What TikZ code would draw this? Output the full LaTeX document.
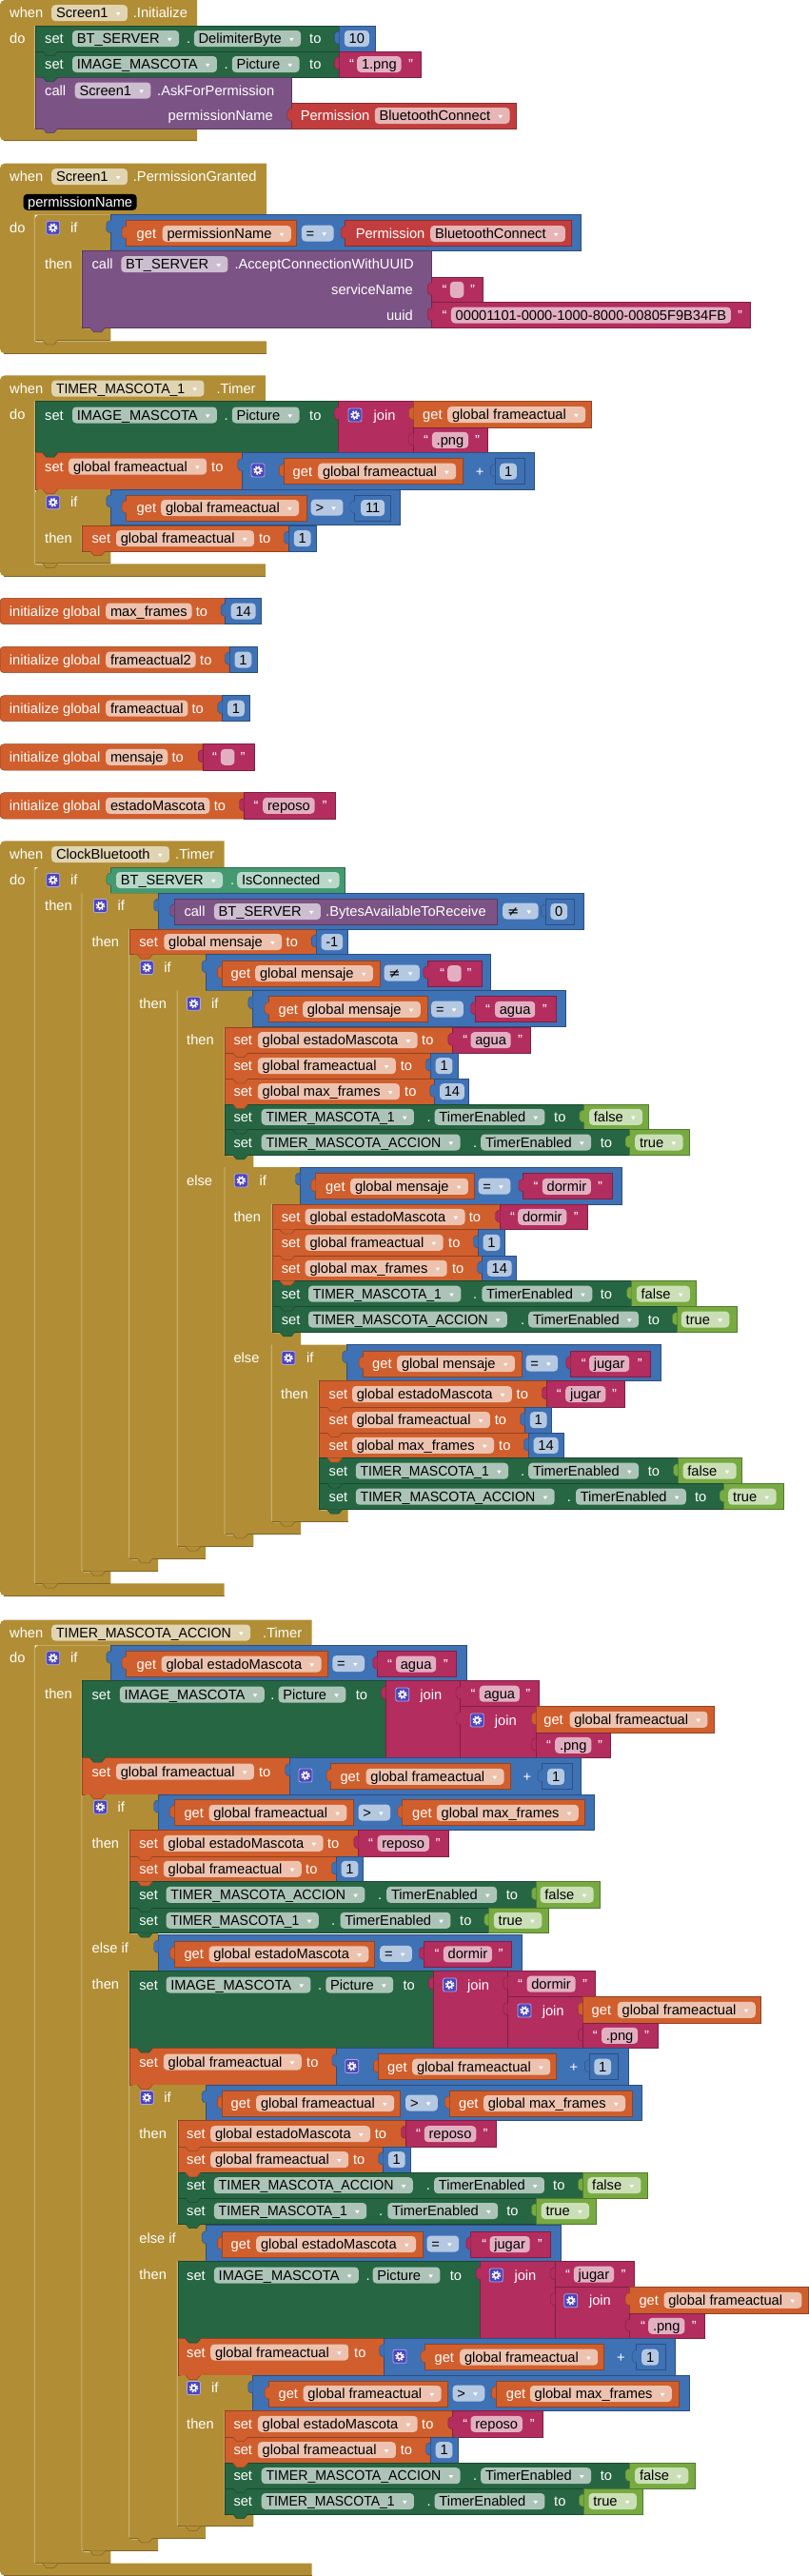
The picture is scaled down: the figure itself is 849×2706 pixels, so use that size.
\documentclass[tikz,border=0pt]{standalone}
\usepackage{fontspec}
\setmainfont{Liberation Sans}
\newfontfamily\dvs{DejaVu Sans}
\pgfdeclarelayer{fg}
\pgfsetlayers{main,fg}
\definecolor{cgold}{RGB}{177,142,53}
\definecolor{csetg}{RGB}{38,102,67}
\definecolor{cgetg}{RGB}{67,153,112}
\definecolor{cpurp}{RGB}{124,83,133}
\definecolor{cred}{RGB}{194,62,62}
\definecolor{cmag}{RGB}{179,45,94}
\definecolor{cblue}{RGB}{63,113,181}
\definecolor{corange}{RGB}{208,95,45}
\definecolor{clogic}{RGB}{119,171,65}
\definecolor{cgear}{RGB}{76,68,190}
\newcounter{nd}
\newcommand\TMone{\scalebox{0.955}[1]{TIMER\_MASCOTA\_1}}
\newcommand\TMacc{\scalebox{0.965}[1]{TIMER\_MASCOTA\_ACCION}}
\tikzset{
 lbl/.style={text=white, inner sep=0pt, anchor=west, text height=11pt, text depth=1pt},
 rlbl/.style={lbl, anchor=east},
 fldst/.style={fill=white, fill opacity=0.62, text opacity=1, text=black, rounded corners=4pt, inner xsep=4.8pt, inner ysep=0pt, minimum height=17pt, text height=11pt, text depth=1pt, anchor=west},
 parst/.style={fill=black, text=white, rounded corners=4pt, inner xsep=4.5pt, inner ysep=0pt, minimum height=17pt, text height=11pt, text depth=1pt, anchor=west},
 hil/.style={white, draw opacity=.5, line width=.8pt, rounded corners=3pt},
 shad/.style={cgold!72!black, line width=.8pt}
}
\newcommand\lb[3]{\stepcounter{nd}\node[lbl] (n\arabic{nd}) at (#1,#2) {#3};}
\newcommand\rl[3]{\stepcounter{nd}\node[rlbl] (n\arabic{nd}) at (#1,#2) {#3};}
\newcommand\fd[3]{\stepcounter{nd}\node[fldst] (n\arabic{nd}) at (#1,#2) {#3};}
\newcommand\ef[2]{\stepcounter{nd}\node[fldst, minimum width=14.5pt] (n\arabic{nd}) at (#1,#2) {};}
\newcommand\dr[3]{\stepcounter{nd}\node[fldst] (n\arabic{nd}) at (#1,#2) {#3\kern15.5pt\mbox{}};
 \fill[white] ([xshift=-12.3pt,yshift=0.6pt]n\arabic{nd}.east) -- ++(4.6pt,0pt) -- ++(-2.3pt,-3.4pt) -- cycle;}
\newcommand\nt[3]{\begin{pgfonlayer}{fg}\fill[#3] (#1+8,#2-.4) -- (#1+12,#2+4.5) -- (#1+20,#2+4.5) -- (#1+24,#2-.4) -- cycle;
 \draw[#3!70!black, line width=.5pt] (#1+8,#2) -- (#1+12,#2+4.5) -- (#1+20,#2+4.5) -- (#1+24,#2);\end{pgfonlayer}}
\newcommand\vt[3]{\begin{pgfonlayer}{fg}\filldraw[fill=#3, draw=#3!70!black, line width=.4pt, rounded corners=2pt] (#1+.4,#2+6) -- (#1-4.5,#2+7) -- (#1-4.5,#2+18) -- (#1+.4,#2+19);\end{pgfonlayer}}
\newcommand\stb[5]{\filldraw[fill=#5, draw=#5!70!black, line width=.5pt] (#1,#2) rectangle (#3,#4);\nt{#1}{#4}{#5}}
\newcommand\vab[5]{\filldraw[fill=#5, draw=#5!70!black, line width=.5pt] (#1,#2) rectangle (#3,#4);\vt{#1}{#2}{#5}}
\newcommand\gb[3]{\filldraw[fill=corange, draw=corange!70!black, line width=.5pt] (0,#1+4) arc[start angle=180,end angle=270,radius=4] -- (#2,#1) -- (#2,#3) -- (4,#3) arc[start angle=90,end angle=180,radius=4] -- cycle;}
\newcommand\hh[3]{\draw[hil] (#1-.6,#2) -- (#1-.6,#3+.6) -- (#1+13,#3+.6);}
\newcommand\ev[4]{\fill[cgold] (0,#2+5) arc[start angle=180,end angle=270,radius=5] -- (#1,#2) -- (#1,#3) -- (36.8,#3) -- (36.8,#4) -- (#1,#4) -- (#1,#4+13) -- (5,#4+13) arc[start angle=90,end angle=180,radius=5] -- cycle;
 \hh{36.8}{#3}{#4}\draw[shad] (4,#4+12.6) -- (#1,#4+12.6);}
\newcommand\ib[3]{\fill[cgold] (#1,#2+4) arc[start angle=180,end angle=270,radius=4] -- (#1+79.6,#2) -- (#1+79.6,#3+13) -- (#1,#3+13) -- cycle;
 \draw[shad] (#1,#3+12.6) -- (#1+79.6,#3+12.6);\nt{#1}{#3+13}{cgold}}
\newcommand\gz[2]{\filldraw[fill=cgear, draw=cgear!45!white, line width=.8pt, rounded corners=2pt] (#1,#2-7) rectangle (#1+14,#2+7);
 \draw[white, line width=1.5pt] (#1+7,#2) circle (2.5);
 \draw[white, line width=1.5pt, dash pattern=on 1.65pt off 1.65pt] (#1+7,#2) circle (4.2);}
\begin{document}
\begin{tikzpicture}[x=1pt,y=-1pt,font=\fontsize{14.67pt}{17pt}\selectfont]
\fill[white] (0,0) rectangle (849,2706);
\useasboundingbox (0,0) rectangle (849,2706);
% ===== Event 1 =====
\ev{207}{0}{27}{135}
\lb{10}{13.7}{when}\dr{54}{13.7}{Screen1}\lb{139.7}{13.7}{.Initialize}
\lb{10}{40.5}{do}
\stb{36.8}{27}{356}{54}{csetg}
\lb{47}{40.5}{set}\dr{75.8}{40.5}{BT\_SERVER}\lb{196}{40.5}{.}\dr{203.6}{40.5}{DelimiterByte}\lb{325}{40.5}{to}
\vab{356}{27}{394}{54}{cblue}\fd{361.7}{40.5}{10}
\stb{36.8}{54}{356}{81}{csetg}
\lb{47}{67.5}{set}\dr{75.8}{67.5}{IMAGE\_MASCOTA}\lb{235.5}{67.5}{.}\dr{243.6}{67.5}{Picture}\lb{325}{67.5}{to}
\vab{356}{54}{442}{81}{cmag}\lb{367}{67.5}{“}\fd{375}{67.5}{1.png}\lb{429}{67.5}{”}
\stb{36.8}{81}{306.4}{135}{cpurp}
\lb{47}{95}{call}\dr{78.5}{95}{Screen1}\lb{165}{95}{.AskForPermission}
\rl{287}{121.5}{permissionName}
\vab{306.4}{108}{542.5}{135}{cred}\lb{315.6}{121.5}{Permission}\dr{393.6}{121.5}{BluetoothConnect}
% ===== Event 2 =====
\ev{280}{171.7}{225.7}{358.3}
\lb{10}{185.7}{when}\dr{54}{185.7}{Screen1}\lb{139.7}{185.7}{.PermissionGranted}
\stepcounter{nd}\node[parst] (n\arabic{nd}) at (24.4,212.3) {permissionName};
\lb{10}{239.3}{do}
\ib{36.8}{225.7}{344.3}\hh{86.6}{263.7}{344.3}
\gz{48.7}{239.3}\lb{74}{239.3}{if}
\vab{116.4}{225.7}{610}{263.7}{cblue}
\vab{132.6}{231.7}{311.3}{258.7}{corange}\lb{143.5}{245.5}{get}\dr{170.5}{245.5}{permissionName}
\dr{316.7}{245}{=}
\vab{362.7}{231.7}{600}{258.7}{cred}\lb{373.6}{245.5}{Permission}\dr{452}{245.5}{BluetoothConnect}
\lb{47}{277}{then}
\stb{86.6}{263.7}{453}{344.3}{cpurp}
\lb{96.4}{277.7}{call}\dr{127.2}{277.7}{BT\_SERVER}\lb{246.3}{277.7}{.AcceptConnectionWithUUID}
\rl{434}{304.3}{serviceName}
\vab{453.7}{291}{507.3}{317.7}{cmag}\lb{464.5}{304.3}{“}\ef{472.6}{304.3}\lb{493.8}{304.3}{”}
\rl{434}{331}{uuid}
\vab{453.7}{317.7}{787.8}{344.3}{cmag}\lb{464.5}{331}{“}\fd{473.7}{331}{00001101-0000-1000-8000-00805F9B34FB}\lb{775}{331}{”}
% ===== Event 3 =====
\ev{278.8}{394.3}{421.7}{592.3}
\lb{10}{408}{when}\dr{54}{408}{\TMone}\lb{227.4}{408}{.Timer}
\lb{10}{435.5}{do}
\stb{36.8}{421.7}{355.7}{475.7}{csetg}
\lb{47}{436}{set}\dr{75.8}{436}{IMAGE\_MASCOTA}\lb{235.5}{436}{.}\dr{243.6}{436}{Picture}\lb{325}{436}{to}
\vab{355.7}{421.7}{434.2}{475.7}{cmag}\gz{366}{436}\lb{392.5}{436}{join}
\vab{434.2}{421.7}{621.5}{449}{corange}\lb{444}{435.5}{get}\dr{470}{435.5}{global frameactual}
\vab{434.2}{449}{512.7}{475.7}{cmag}\lb{445}{462.3}{“}\fd{453.7}{462.3}{.png}\lb{499}{462.3}{”}
\stb{36.8}{475.7}{254.4}{514}{corange}
\lb{47}{490}{set}\dr{72}{490}{global frameactual}\lb{222}{490}{to}
\vab{254.4}{475.7}{561}{514}{cblue}\gz{264}{494}
\vab{297.8}{481.7}{486.2}{508.7}{corange}\lb{307.5}{495.2}{get}\dr{334}{495.2}{global frameactual}
\lb{499.7}{495}{+}
\vab{519.8}{481.7}{551}{508.7}{cblue}\fd{525}{495.2}{1}
\ib{36.8}{514}{579}\hh{86.6}{552.3}{579}
\gz{48.7}{527.7}\lb{74}{527.7}{if}
\vab{116.4}{514}{420}{551.7}{cblue}
\vab{132.6}{520}{322}{547}{corange}\lb{143.5}{533.5}{get}\dr{169}{533.5}{global frameactual}
\dr{326.5}{533}{>}
\vab{372.5}{520}{410.4}{547}{cblue}\fd{379}{533.5}{11}
\lb{47}{565}{then}
\stb{86.6}{552.3}{303}{579}{corange}\lb{96.4}{565.7}{set}\dr{121.8}{565.7}{global frameactual}\lb{271.8}{565.7}{to}
\vab{303}{552.3}{332.4}{579}{cblue}\fd{308.6}{565.7}{1}
% ===== Globals =====
\gb{628.3}{236.6}{655.7}\lb{9.7}{642}{initialize global}\fd{111}{642}{max\_frames}\lb{205.7}{642}{to}
\vab{236.6}{628.3}{274.5}{655.7}{cblue}\fd{242.5}{642}{14}
\gb{679.3}{241}{706.7}\lb{9.7}{693}{initialize global}\fd{111}{693}{frameactual2}\lb{210}{693}{to}
\vab{241}{679.3}{270.7}{706.7}{cblue}\fd{246.3}{693}{1}
\gb{730.7}{233.3}{757.7}\lb{9.7}{744.2}{initialize global}\fd{111}{744.2}{frameactual}\lb{201.4}{744.2}{to}
\vab{233.3}{730.7}{262.6}{757.7}{cblue}\fd{238.8}{744.2}{1}
\gb{781.7}{212.8}{809}\lb{9.7}{795.3}{initialize global}\fd{111}{795.3}{mensaje}\lb{180.3}{795.3}{to}
\vab{212.8}{781.7}{267}{809}{cmag}\lb{223}{795.3}{“}\ef{231.7}{795.3}\lb{252.3}{795.3}{”}
\gb{832.7}{256}{860}\lb{9.7}{846.3}{initialize global}\fd{111}{846.3}{estadoMascota}\lb{224.7}{846.3}{to}
\vab{256}{832.7}{352}{860}{cmag}\lb{266.4}{846.3}{“}\fd{276}{846.3}{reposo}\lb{338.4}{846.3}{”}
% ===== ClockBluetooth =====
\ev{235.5}{883.3}{911}{1663.3}
\lb{10}{897.5}{when}\dr{54}{897.5}{ClockBluetooth}\lb{184}{897.5}{.Timer}
\lb{10}{924.5}{do}
\ib{36.8}{911}{1650.7}\hh{86.6}{938.3}{1650.7}
\gz{48.7}{924.5}\lb{74}{924.5}{if}
\vab{116.4}{911}{362.7}{938}{cgetg}\dr{121.8}{924.5}{BT\_SERVER}\lb{242}{924.5}{.}\dr{249}{924.5}{IsConnected}
\lb{47}{951.5}{then}
\ib{86.6}{938.3}{1637.7}\hh{136.4}{976}{1637.7}
\gz{98.4}{951.5}\lb{123.4}{951.5}{if}
\vab{166.2}{938.3}{613.4}{976}{cblue}
\vab{183}{944}{522.5}{971}{cpurp}\lb{193.3}{957.5}{call}\dr{224.7}{957.5}{BT\_SERVER}\lb{342}{957.5}{.BytesAvailableToReceive}
\dr{528}{957}{{\dvs ≠}}
\vab{572.8}{944}{603.7}{971}{cblue}\fd{578.2}{957.5}{0}
\lb{96.4}{989.5}{then}
\stb{136.4}{976}{331.9}{1002.7}{corange}\lb{146.2}{989.5}{set}\dr{172.2}{989.5}{global mensaje}\lb{300.5}{989.5}{to}
\vab{331.9}{976}{365.4}{1002.7}{cblue}\fd{337.3}{989.5}{-1}
\ib{136.4}{1002.7}{1624.3}\hh{186.8}{1040.7}{1624.3}
\gz{147.3}{1016.5}\lb{172.2}{1016.5}{if}
\vab{216.6}{1002.7}{515.4}{1040.7}{cblue}
\vab{232.8}{1009}{399.5}{1036}{corange}\lb{242.5}{1022.5}{get}\dr{268}{1022.5}{global mensaje}
\dr{403.3}{1022}{{\dvs ≠}}
\vab{449.4}{1009}{506.2}{1036}{cmag}\lb{461.8}{1022.5}{“}\ef{470}{1022.5}\lb{490.5}{1022.5}{”}
\lb{146.2}{1054}{then}
\ib{186.8}{1040.7}{1611.7}\hh{236.6}{1079.3}{1213.3}\hh{236.6}{1226}{1611.7}
\gz{196.5}{1054.3}\lb{222}{1054.3}{if}
\vab{265.3}{1040.7}{594.5}{1078.3}{cblue}
\vab{282.6}{1046.7}{449.4}{1073.7}{corange}\lb{292.4}{1060.3}{get}\dr{317.8}{1060.3}{global mensaje}
\dr{453}{1060}{=}
\vab{499.2}{1046.7}{584.7}{1073.7}{cmag}\lb{510}{1060.3}{“}\fd{519.8}{1060.3}{agua}\lb{569.6}{1060.3}{”}
\lb{196}{1092}{then}
\stb{236.6}{1079.3}{475.4}{1106}{corange}\lb{245.3}{1092.7}{set}\dr{270.7}{1092.7}{global estadoMascota}\lb{443}{1092.7}{to}
\vab{475.4}{1079.3}{557.7}{1106}{cmag}\lb{486.2}{1092.7}{“}\fd{494.3}{1092.7}{agua}\lb{544}{1092.7}{”}
\stb{236.6}{1106}{452}{1133.3}{corange}\lb{245.3}{1119.7}{set}\dr{270.7}{1119.7}{global frameactual}\lb{420.7}{1119.7}{to}
\vab{452}{1106}{480.8}{1133.3}{cblue}\fd{457.5}{1119.7}{1}
\stb{236.6}{1133.3}{456.4}{1160}{corange}\lb{245.3}{1146.7}{set}\dr{270.7}{1146.7}{global max\_frames}\lb{425}{1146.7}{to}
\vab{456.4}{1133.3}{492.7}{1160}{cblue}\fd{461.8}{1146.7}{14}
\stb{236.6}{1160}{613.4}{1186.7}{csetg}\lb{245.3}{1173.3}{set}\dr{274.5}{1173.3}{\TMone}\lb{448.3}{1173.3}{.}\dr{456.4}{1173.3}{TimerEnabled}\lb{582}{1173.3}{to}
\vab{613.4}{1160}{681}{1186.7}{clogic}\dr{618.8}{1173.3}{false}
\stb{236.6}{1186.7}{661.6}{1213.3}{csetg}\lb{245.3}{1200}{set}\dr{274.5}{1200}{\TMacc}\lb{497}{1200}{.}\dr{505}{1200}{TimerEnabled}\lb{630.7}{1200}{to}
\vab{661.6}{1186.7}{724.4}{1213.3}{clogic}\dr{667}{1200}{true}
\lb{196}{1240}{else}
\ib{236.6}{1226}{1598.3}\hh{285.9}{1265}{1399.3}\hh{285.9}{1412.7}{1598.3}
\gz{246.3}{1240}\lb{272.3}{1240}{if}
\vab{315}{1226}{653.5}{1265}{cblue}
\vab{331.3}{1232.7}{498}{1259.7}{corange}\lb{342}{1246.3}{get}\dr{368}{1246.3}{global mensaje}
\dr{502.4}{1246}{=}
\vab{549.5}{1232.7}{643.2}{1259.7}{cmag}\lb{560.4}{1246.3}{“}\fd{569.6}{1246.3}{dormir}\lb{628}{1246.3}{”}
\lb{245.3}{1278.3}{then}
\stb{285.9}{1265}{525.2}{1291.7}{corange}\lb{295.7}{1278.3}{set}\dr{320.5}{1278.3}{global estadoMascota}\lb{492.7}{1278.3}{to}
\vab{525.2}{1265}{617.2}{1291.7}{cmag}\lb{536}{1278.3}{“}\fd{544}{1278.3}{dormir}\lb{602.6}{1278.3}{”}
\stb{285.9}{1291.7}{502}{1319}{corange}\lb{295.7}{1305.3}{set}\dr{320.5}{1305.3}{global frameactual}\lb{471}{1305.3}{to}
\vab{502}{1291.7}{530.6}{1319}{cblue}\fd{507.3}{1305.3}{1}
\stb{285.9}{1319}{506.2}{1345.7}{corange}\lb{295.7}{1332.3}{set}\dr{320.5}{1332.3}{global max\_frames}\lb{474.8}{1332.3}{to}
\vab{506.2}{1319}{542.5}{1345.7}{cblue}\fd{511.6}{1332.3}{14}
\stb{285.9}{1345.7}{663.2}{1372.7}{csetg}\lb{295.7}{1359.2}{set}\dr{323.8}{1359.2}{\TMone}\lb{497}{1359.2}{.}\dr{506.2}{1359.2}{TimerEnabled}\lb{630.7}{1359.2}{to}
\vab{663.2}{1345.7}{731}{1372.7}{clogic}\dr{668.6}{1359.2}{false}
\stb{285.9}{1372.7}{710.9}{1399.3}{csetg}\lb{295.7}{1386}{set}\dr{323.8}{1386}{\TMacc}\lb{546.8}{1386}{.}\dr{555}{1386}{TimerEnabled}\lb{680.6}{1386}{to}
\vab{710.9}{1372.7}{774.2}{1399.3}{clogic}\dr{715.7}{1386}{true}
\lb{245.3}{1426}{else}
\ib{285.9}{1412.7}{1585.7}\hh{335.7}{1450.7}{1585.7}
\gz{296}{1426.5}\lb{322}{1426.5}{if}
\vab{364.4}{1412.7}{694}{1450.7}{cblue}
\vab{381.7}{1419}{548}{1446}{corange}\lb{391}{1432.5}{get}\dr{417}{1432.5}{global mensaje}
\dr{552.3}{1432}{=}
\vab{599.3}{1419}{683.3}{1446}{cmag}\lb{610.7}{1432.5}{“}\fd{618.8}{1432.5}{jugar}\lb{669.7}{1432.5}{”}
\lb{295}{1464}{then}
\stb{335.7}{1450.7}{574}{1478.3}{corange}\lb{345.5}{1464.5}{set}\dr{369.8}{1464.5}{global estadoMascota}\lb{542.5}{1464.5}{to}
\vab{574}{1450.7}{656.7}{1478.3}{cmag}\lb{584.7}{1464.5}{“}\fd{594}{1464.5}{jugar}\lb{643}{1464.5}{”}
\stb{335.7}{1478.3}{551.2}{1505}{corange}\lb{345.5}{1491.7}{set}\dr{369.8}{1491.7}{global frameactual}\lb{519.7}{1491.7}{to}
\vab{551.2}{1478.3}{579.3}{1505}{cblue}\fd{556.6}{1491.7}{1}
\stb{335.7}{1505}{555}{1531.7}{corange}\lb{345.5}{1518.3}{set}\dr{369.8}{1518.3}{global max\_frames}\lb{524}{1518.3}{to}
\vab{555}{1505}{591.8}{1531.7}{cblue}\fd{560.4}{1518.3}{14}
\stb{335.7}{1531.7}{712}{1558.7}{csetg}\lb{345.5}{1545.2}{set}\dr{373.6}{1545.2}{\TMone}\lb{546.8}{1545.2}{.}\dr{555}{1545.2}{TimerEnabled}\lb{680.6}{1545.2}{to}
\vab{712}{1531.7}{779.6}{1558.7}{clogic}\dr{717.4}{1545.2}{false}
\stb{335.7}{1558.7}{760.7}{1585.7}{csetg}\lb{345.5}{1572.2}{set}\dr{373.6}{1572.2}{\TMacc}\lb{595.6}{1572.2}{.}\dr{604.8}{1572.2}{TimerEnabled}\lb{729.8}{1572.2}{to}
\vab{760.7}{1558.7}{823}{1585.7}{clogic}\dr{765}{1572.2}{true}
% ===== TIMER_MASCOTA_ACCION =====
\ev{327.6}{1701.7}{1728.3}{2692.7}
\lb{10}{1715}{when}\dr{54}{1715}{\TMacc}\lb{276}{1715}{.Timer}
\lb{10}{1741.5}{do}
\ib{36.8}{1728.3}{2680}\hh{86.6}{1765.7}{2680}
\gz{48.7}{1741.7}\lb{74}{1741.7}{if}
\vab{116.4}{1728.3}{490}{1765.7}{cblue}
\vab{132.6}{1734.3}{343.8}{1761.3}{corange}\lb{143.5}{1748}{get}\dr{169.5}{1748}{global estadoMascota}
\dr{349.2}{1747.5}{=}
\vab{396.3}{1734.3}{479.2}{1761.3}{cmag}\lb{407}{1748}{“}\fd{415.8}{1748}{agua}\lb{465.6}{1748}{”}
\lb{47}{1779}{then}
\stb{86.6}{1765.7}{405}{1846.7}{csetg}\lb{96.4}{1780}{set}\dr{125.6}{1780}{IMAGE\_MASCOTA}\lb{284.2}{1780}{.}\dr{292.4}{1780}{Picture}\lb{373.6}{1780}{to}
\vab{405}{1765.7}{483.5}{1846.7}{cmag}\gz{415.8}{1780}\lb{441.2}{1780}{join}
\vab{483.5}{1765.7}{565.8}{1792.7}{cmag}\lb{494.3}{1779.2}{“}\fd{503.5}{1779.2}{agua}\lb{552.2}{1779.2}{”}
\vab{483.5}{1792.7}{563}{1846.7}{cmag}\gz{494.3}{1807}\lb{519.7}{1807}{join}
\vab{563}{1792.7}{749.8}{1820}{corange}\lb{571.2}{1806.3}{get}\dr{598.3}{1806.3}{global frameactual}
\vab{563}{1820}{641.6}{1846.7}{cmag}\lb{574}{1833.3}{“}\fd{583}{1833.3}{.png}\lb{628}{1833.3}{”}
\stb{86.6}{1846.7}{304.3}{1885}{corange}\lb{96.4}{1861}{set}\dr{121.8}{1861}{global frameactual}\lb{271.8}{1861}{to}
\vab{304.3}{1846.7}{610}{1885}{cblue}\gz{314}{1865}
\vab{347.6}{1852.7}{536}{1879.7}{corange}\lb{357.3}{1866.3}{get}\dr{384.4}{1866.3}{global frameactual}
\lb{549.5}{1866}{+}
\vab{569.6}{1852.7}{601}{1879.7}{cblue}\fd{575}{1866.3}{1}
\ib{86.6}{1885}{2666.7}\hh{136.4}{1922.7}{2030.7}\hh{136.4}{2070.7}{2666.7}
\gz{98.4}{1898.3}\lb{123.4}{1898.3}{if}
\vab{166.2}{1885}{624.3}{1922.7}{cblue}
\vab{183}{1890.7}{370.9}{1917.7}{corange}\lb{193.3}{1904.3}{get}\dr{219.3}{1904.3}{global frameactual}
\dr{376.3}{1904}{>}
\vab{422.3}{1890.7}{614.5}{1917.7}{corange}\lb{433}{1904.3}{get}\dr{458.6}{1904.3}{global max\_frames}
\lb{96.4}{1936}{then}
\stb{136.4}{1922.7}{376.3}{1950}{corange}\lb{146.2}{1936.3}{set}\dr{171.6}{1936.3}{global estadoMascota}\lb{343.8}{1936.3}{to}
\vab{376.3}{1922.7}{471}{1950}{cmag}\lb{387}{1936.3}{“}\fd{396.3}{1936.3}{reposo}\lb{457.5}{1936.3}{”}
\stb{136.4}{1950}{353}{1976.7}{corange}\lb{146.2}{1963.3}{set}\dr{171.6}{1963.3}{global frameactual}\lb{321}{1963.3}{to}
\vab{353}{1950}{381.7}{1976.7}{cblue}\fd{358.4}{1963.3}{1}
\stb{136.4}{1976.7}{563}{2004}{csetg}\lb{146.2}{1990.3}{set}\dr{174.3}{1990.3}{\TMacc}\lb{396.8}{1990.3}{.}\dr{406}{1990.3}{TimerEnabled}\lb{531.7}{1990.3}{to}
\vab{563}{1976.7}{630.7}{2004}{clogic}\dr{567.4}{1990.3}{false}
\stb{136.4}{2004}{513.3}{2030.7}{csetg}\lb{146.2}{2017.3}{set}\dr{174.3}{2017.3}{\TMone}\lb{348}{2017.3}{.}\dr{357.3}{2017.3}{TimerEnabled}\lb{483}{2017.3}{to}
\vab{513.3}{2004}{576.6}{2030.7}{clogic}\dr{518.7}{2017.3}{true}
\lb{96.4}{2046.5}{else if}
\vab{166.2}{2032.3}{548.5}{2070.7}{cblue}
\vab{183}{2039.3}{393.6}{2066.3}{corange}\lb{193.3}{2052.8}{get}\dr{219.3}{2052.8}{global estadoMascota}
\dr{399}{2052.3}{=}
\vab{445}{2039.3}{537.6}{2066.3}{cmag}\lb{456.4}{2052.8}{“}\fd{465.6}{2052.8}{dormir}\lb{523.5}{2052.8}{”}
\lb{96.4}{2084.5}{then}
\stb{136.4}{2070.7}{454.8}{2151.7}{csetg}\lb{146.2}{2085}{set}\dr{174.3}{2085}{IMAGE\_MASCOTA}\lb{334}{2085}{.}\dr{342.2}{2085}{Picture}\lb{423.4}{2085}{to}
\vab{454.8}{2070.7}{533.3}{2151.7}{cmag}\gz{465.6}{2085}\lb{491}{2085}{join}
\vab{533.3}{2070.7}{625.3}{2097.7}{cmag}\lb{544}{2084.2}{“}\fd{553.3}{2084.2}{dormir}\lb{611.8}{2084.2}{”}
\vab{533.3}{2097.7}{611.8}{2151.7}{cmag}\gz{544}{2112}\lb{569.6}{2112}{join}
\vab{611.8}{2097.7}{799.7}{2125}{corange}\lb{621.5}{2111.3}{get}\dr{648.6}{2111.3}{global frameactual}
\vab{611.8}{2125}{691.4}{2151.7}{cmag}\lb{622.6}{2138.3}{“}\fd{631.8}{2138.3}{.png}\lb{676.8}{2138.3}{”}
\stb{136.4}{2151.7}{353.5}{2190}{corange}\lb{146.2}{2166}{set}\dr{171.6}{2166}{global frameactual}\lb{322}{2166}{to}
\vab{353.5}{2151.7}{660.5}{2190}{cblue}\gz{362.7}{2170.5}
\vab{396.8}{2157.7}{584.7}{2184.7}{corange}\lb{407}{2171.2}{get}\dr{433}{2171.2}{global frameactual}
\lb{598.3}{2171}{+}
\vab{618.8}{2157.7}{649.7}{2184.7}{cblue}\fd{624.2}{2171.2}{1}
\ib{136.4}{2190}{2653.3}\hh{186.8}{2227.3}{2336}\hh{186.8}{2375.7}{2653.3}
\gz{147.3}{2203.5}\lb{172.2}{2203.5}{if}
\vab{216.6}{2190}{674}{2227.3}{cblue}
\vab{232.8}{2196}{420.7}{2223}{corange}\lb{242.5}{2209.5}{get}\dr{269}{2209.5}{global frameactual}
\dr{426}{2209}{>}
\vab{472}{2196}{664.3}{2223}{corange}\lb{481.9}{2209.5}{get}\dr{507.8}{2209.5}{global max\_frames}
\lb{146.2}{2241}{then}
\stb{186.8}{2227.3}{426}{2255}{corange}\lb{196}{2241.7}{set}\dr{221}{2241.7}{global estadoMascota}\lb{393.6}{2241.7}{to}
\vab{426}{2227.3}{520.8}{2255}{cmag}\lb{437}{2241.7}{“}\fd{445.6}{2241.7}{reposo}\lb{507.3}{2241.7}{”}
\stb{186.8}{2255}{402.3}{2282.3}{corange}\lb{196}{2268.7}{set}\dr{221}{2268.7}{global frameactual}\lb{370.9}{2268.7}{to}
\vab{402.3}{2255}{431.5}{2282.3}{cblue}\fd{407.7}{2268.7}{1}
\stb{186.8}{2282.3}{611.8}{2309}{csetg}\lb{196}{2295.7}{set}\dr{224.7}{2295.7}{\TMacc}\lb{447.7}{2295.7}{.}\dr{455.9}{2295.7}{TimerEnabled}\lb{581}{2295.7}{to}
\vab{611.8}{2282.3}{680.5}{2309}{clogic}\dr{617.2}{2295.7}{false}
\stb{186.8}{2309}{563}{2336}{csetg}\lb{196}{2322.5}{set}\dr{224.7}{2322.5}{\TMone}\lb{398}{2322.5}{.}\dr{407.1}{2322.5}{TimerEnabled}\lb{532.2}{2322.5}{to}
\vab{563}{2309}{626.4}{2336}{clogic}\dr{568.5}{2322.5}{true}
\lb{146.2}{2351.7}{else if}
\vab{216.6}{2337.7}{589}{2375.7}{cblue}
\vab{232.8}{2344}{444}{2371}{corange}\lb{242.5}{2357.5}{get}\dr{269}{2357.5}{global estadoMascota}
\dr{448.3}{2357}{=}
\vab{494.3}{2344}{578.2}{2371}{cmag}\lb{506.2}{2357.5}{“}\fd{514.3}{2357.5}{jugar}\lb{564.7}{2357.5}{”}
\lb{146.2}{2389.5}{then}
\stb{186.8}{2375.7}{504.6}{2456.7}{csetg}\lb{196}{2390}{set}\dr{224.7}{2390}{IMAGE\_MASCOTA}\lb{384.4}{2390}{.}\dr{391.4}{2390}{Picture}\lb{472.6}{2390}{to}
\vab{504.6}{2375.7}{583}{2456.7}{cmag}\gz{514.3}{2390}\lb{540.3}{2390}{join}
\vab{583}{2375.7}{666}{2402.7}{cmag}\lb{594}{2389.2}{“}\fd{602.6}{2389.2}{jugar}\lb{652.4}{2389.2}{”}
\vab{583}{2402.7}{661.6}{2456.7}{cmag}\gz{592.8}{2416.7}\lb{618.8}{2416.7}{join}
\vab{661.6}{2402.7}{849}{2430}{corange}\lb{671.3}{2416.3}{get}\dr{697.3}{2416.3}{global frameactual}
\vab{661.6}{2430}{740.6}{2456.7}{cmag}\lb{673}{2443.3}{“}\fd{681}{2443.3}{.png}\lb{726.6}{2443.3}{”}
\stb{186.8}{2456.7}{403.3}{2495}{corange}\lb{196}{2471}{set}\dr{221}{2471}{global frameactual}\lb{372}{2471}{to}
\vab{403.3}{2456.7}{709.2}{2495}{cblue}\gz{413}{2475.3}
\vab{446.7}{2462.7}{634.5}{2489.7}{corange}\lb{456.4}{2476.2}{get}\dr{483}{2476.2}{global frameactual}
\lb{648}{2476}{+}
\vab{668.6}{2462.7}{699.5}{2489.7}{cblue}\fd{674}{2476.2}{1}
\ib{186.8}{2495}{2641}\hh{236.6}{2532.7}{2641}
\gz{196.5}{2508.5}\lb{222}{2508.5}{if}
\vab{265.3}{2495}{723.9}{2532.7}{cblue}
\vab{282.6}{2501}{470}{2528}{corange}\lb{292.4}{2514.5}{get}\dr{318.4}{2514.5}{global frameactual}
\dr{475.4}{2514}{>}
\vab{520.8}{2501}{713.6}{2528}{corange}\lb{531.7}{2514.5}{get}\dr{556.6}{2514.5}{global max\_frames}
\lb{196}{2546}{then}
\stb{236.6}{2532.7}{475.4}{2560}{corange}\lb{245.3}{2546.3}{set}\dr{270.7}{2546.3}{global estadoMascota}\lb{443}{2546.3}{to}
\vab{475.4}{2532.7}{570}{2560}{cmag}\lb{486.2}{2546.3}{“}\fd{494.3}{2546.3}{reposo}\lb{556.6}{2546.3}{”}
\stb{236.6}{2560}{452}{2587.3}{corange}\lb{245.3}{2573.7}{set}\dr{270.7}{2573.7}{global frameactual}\lb{420.7}{2573.7}{to}
\vab{452}{2560}{480.8}{2587.3}{cblue}\fd{457.5}{2573.7}{1}
\stb{236.6}{2587.3}{661.6}{2614}{csetg}\lb{245.3}{2600.7}{set}\dr{274.5}{2600.7}{\TMacc}\lb{497}{2600.7}{.}\dr{505}{2600.7}{TimerEnabled}\lb{630.7}{2600.7}{to}
\vab{661.6}{2587.3}{729.8}{2614}{clogic}\dr{667}{2600.7}{false}
\stb{236.6}{2614}{612.9}{2641}{csetg}\lb{245.3}{2627.5}{set}\dr{274.5}{2627.5}{\TMone}\lb{448.3}{2627.5}{.}\dr{456.4}{2627.5}{TimerEnabled}\lb{582}{2627.5}{to}
\vab{612.9}{2614}{675.1}{2641}{clogic}\dr{618.3}{2627.5}{true}
\end{tikzpicture}
\end{document}
